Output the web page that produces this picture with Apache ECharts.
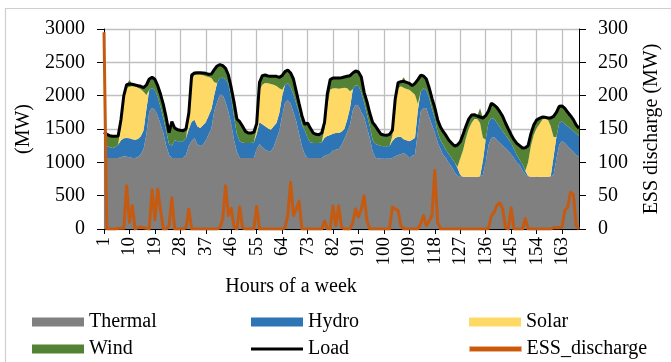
<!DOCTYPE html>
<html><head><meta charset="utf-8">
<script src="https://cdn.jsdelivr.net/npm/echarts@6/dist/echarts.min.js"></script>
<style>html,body{margin:0;padding:0;background:#fff}#c{width:671px;height:362px}</style>
</head><body><div id="c"></div>
<script>
const hours = Array.from({length:169},(_, i)=>String(i+1));
const thermal = [
1075,1065,1065,1065,1065,1065,1075,1090,1085,1075,
1065,1065,1080,1120,1200,1420,1760,1815,1790,1700,
1570,1440,1250,1115,1065,1065,1065,1065,1065,1110,
1250,1320,1365,1270,1245,1265,1330,1420,1510,1770,
1900,2015,2010,1900,1760,1580,1330,1160,1065,1065,
1065,1065,1065,1065,1200,1270,1230,1190,1170,1165,
1230,1350,1470,1700,1890,1930,1880,1750,1615,1430,
1240,1120,1065,1065,1065,1065,1065,1065,1100,1115,
1130,1180,1190,1200,1260,1350,1450,1560,1780,1865,
1850,1750,1680,1520,1365,1165,1070,1060,1055,1055,
1055,1055,1065,1090,1110,1120,1140,1110,1065,1100,
1115,1450,1760,1815,1810,1680,1560,1450,1300,1200,
1110,1060,990,930,850,800,790,785,785,785,
785,785,785,790,810,1000,1260,1365,1380,1330,
1290,1250,1215,1170,1120,1060,1000,960,880,820,
790,785,785,785,785,785,785,785,790,810,
1050,1265,1320,1290,1240,1200,1160,1110,1085];
const hydro = [
215,180,160,150,165,200,255,270,280,285,
280,275,270,270,280,380,330,300,290,280,
260,225,220,155,185,265,250,250,250,250,
250,290,275,270,270,290,270,280,290,240,
290,250,260,350,420,380,350,260,250,230,
225,225,225,235,220,330,340,350,340,325,
310,240,270,290,270,255,250,270,265,320,
320,360,305,235,225,225,225,235,270,280,
280,250,250,240,200,150,190,255,320,290,
300,300,220,200,175,175,205,200,190,185,
185,190,255,275,275,265,205,220,250,240,
255,330,300,295,270,290,240,210,150,130,
150,120,130,130,150,120,20,0,0,0,
0,0,0,0,210,340,340,300,270,265,
240,215,195,180,170,140,110,80,95,50,
5,0,0,0,0,0,0,0,0,270,
330,325,295,280,300,305,310,320,315];
const solar = [
0,0,0,0,0,0,230,590,750,775,
795,800,770,705,580,210,0,0,0,0,
0,0,0,0,0,0,0,0,0,0,
180,610,670,775,800,750,690,580,465,190,
0,0,0,0,0,0,0,0,0,0,
0,0,0,0,80,480,595,650,675,685,
625,555,370,100,0,0,0,0,0,0,
0,0,0,0,0,0,0,0,130,455,
680,680,670,665,650,620,470,250,0,0,
0,0,0,0,0,0,0,0,0,0,
0,0,80,535,725,755,775,770,775,710,
645,100,0,0,0,0,0,0,0,0,
0,0,0,0,0,10,250,395,575,715,
805,865,865,800,350,0,0,0,0,0,
0,0,0,0,0,0,0,0,0,0,
205,465,625,725,785,855,880,855,750,300,
0,0,0,0,0,0,0,0,0];
const wind = [
160,175,175,175,160,130,80,50,50,100,
35,20,30,45,60,150,160,160,165,170,
190,200,200,175,360,185,175,165,160,140,
60,90,30,30,30,35,45,40,60,190,
255,200,180,160,130,160,220,230,295,245,
175,150,150,150,80,120,135,120,110,115,
125,145,165,210,200,200,210,230,185,130,
140,90,220,210,150,130,125,140,100,180,
150,155,155,160,160,160,180,235,240,215,
205,230,150,190,200,260,270,220,175,170,
165,175,80,50,85,70,155,100,95,100,
170,360,245,185,170,150,160,160,190,200,
200,220,210,225,245,330,250,240,180,150,
120,65,45,220,295,360,170,220,210,225,
230,225,180,150,125,140,175,210,240,350,
250,180,150,125,90,40,10,25,150,310,
370,250,230,240,210,195,170,130,110];
const load = [
1450,1420,1400,1390,1390,1395,1640,2000,2165,2175,
2170,2160,2150,2140,2120,2160,2250,2275,2245,2150,
2020,1865,1670,1445,1610,1515,1490,1480,1475,1500,
1740,2310,2340,2345,2345,2340,2335,2320,2325,2390,
2445,2465,2450,2410,2310,2120,1900,1650,1610,1540,
1465,1440,1440,1450,1580,2200,2300,2310,2295,2290,
2290,2290,2275,2300,2360,2385,2340,2250,2065,1880,
1700,1570,1590,1510,1440,1420,1415,1440,1600,2030,
2240,2265,2265,2265,2270,2280,2290,2300,2340,2370,
2355,2280,2050,1910,1740,1600,1545,1480,1420,1410,
1405,1420,1480,1950,2195,2210,2215,2200,2185,2150,
2185,2240,2305,2295,2250,2120,1960,1820,1640,1530,
1460,1400,1330,1285,1245,1260,1310,1420,1540,1650,
1710,1715,1695,1680,1665,1700,1770,1885,1860,1820,
1760,1690,1590,1500,1415,1340,1285,1250,1215,1220,
1250,1430,1560,1635,1660,1680,1675,1665,1665,1690,
1750,1840,1845,1810,1750,1700,1640,1560,1510];
const essDischarge = [
295,0,0,0,0,1,1,1,65,10,
35,0,2,3,2,1,0,59,14,60,
28,0,0,5,47,0,0,0,0,2,
30,0,0,0,0,0,0,0,0,0,
0,2,15,65,20,31,3,0,33,2,
0,0,0,0,34,0,0,0,0,0,
0,0,0,0,2,20,70,20,30,42,
0,0,0,0,0,0,0,0,12,0,
0,35,5,35,3,0,0,0,10,30,
18,30,50,12,0,0,0,0,0,0,
0,0,33,30,28,5,0,0,0,0,
0,0,8,20,5,12,20,88,10,0,
0,0,0,0,0,0,0,0,0,0,
0,0,0,0,0,0,1,20,25,36,
39,30,2,0,32,0,0,0,0,16,
0,0,0,0,0,0,0,0,0,2,
2,2,3,28,33,55,52,5,0];

const FONT = '"Liberation Serif","Times New Roman",serif';
const C = {Thermal:'#808080', Hydro:'#2E75B6', Solar:'#FFD966', Wind:'#548235', Load:'#000000', ESS_discharge:'#C55A11'};

function areaSeries(name, data){
  return {name, type:'line', stack:'gen', data, symbol:'none', color:C[name],
    lineStyle:{width:0}, areaStyle:{color:C[name], opacity:1}, z:2};
}
const legendLayout = [
  {name:'Thermal', left:32, top:312, h:9},
  {name:'Hydro', left:251, top:312, h:9},
  {name:'Solar', left:469, top:312, h:9},
  {name:'Wind', left:32, top:339, h:9},
  {name:'Load', left:251, top:339, h:3},
  {name:'ESS_discharge', left:469, top:339, h:5}
];
const chart = echarts.init(document.getElementById('c'), null, {renderer:'canvas'});
chart.setOption({
  animation:false,
  backgroundColor:'#fff',
  textStyle:{fontFamily:FONT, color:'#000'},
  grid:{left:104, right:92, top:29, bottom:133},
  graphic:[
    {type:'rect', shape:{x:5.5, y:8.5, width:720, height:420}, style:{fill:'none', stroke:'#cfcfcf', lineWidth:1.2}, silent:true, z:-1},
    {type:'text', x:291, y:287, style:{text:'Hours of a week', font:'20px '+FONT, fill:'#000', align:'center', verticalAlign:'middle'}}
  ],
  legend: legendLayout.map(it => ({
    data:[it.name==='ESS_discharge' ? {name:it.name, icon:'rect', itemStyle:{borderColor:'#F4B183', borderWidth:1}} : {name:it.name, icon:'rect'}],
    left:it.left, top:it.top, itemWidth:52, itemHeight:it.h, padding:0, selectedMode:false,
    textStyle:{fontFamily:FONT, fontSize:20, color:'#000'}
  })),
  xAxis:[{
    type:'category', data:hours, boundaryGap:false,
    axisLine:{lineStyle:{color:'#000', width:1}},
    axisTick:{show:true, interval:8, length:5, lineStyle:{color:'#000'}},
    axisLabel:{interval:8, rotate:90, margin:8, fontFamily:FONT, fontSize:19, color:'#000'},
    splitLine:{show:true, interval:8, lineStyle:{color:'#bfbfbf', width:1.3}}
  },{
    type:'category', data:hours, boundaryGap:false, position:'bottom',
    axisLine:{show:false}, axisLabel:{show:false}, splitLine:{show:false},
    axisTick:{show:true, inside:true, interval:8, length:5, lineStyle:{color:'#000'}}
  }],
  yAxis:[{
    type:'value', min:0, max:3000, interval:500, position:'left',
    name:'(MW)', nameLocation:'middle', nameRotate:90, nameGap:63,
    nameTextStyle:{fontFamily:FONT, fontSize:20, color:'#000'},
    axisLine:{show:true, lineStyle:{color:'#000'}},
    axisTick:{show:true, length:7, lineStyle:{color:'#000'}},
    axisLabel:{margin:19, fontFamily:FONT, fontSize:20, color:'#000', formatter:v=>String(v)},
    splitLine:{show:true, lineStyle:{color:'#bfbfbf', width:1.3}}
  },{
    type:'value', min:0, max:300, interval:50, position:'right',
    name:'ESS discharge (MW)', nameLocation:'middle', nameRotate:90, nameGap:63,
    nameTextStyle:{fontFamily:FONT, fontSize:20, color:'#000'},
    axisLine:{show:true, lineStyle:{color:'#000'}},
    axisTick:{show:true, length:7, lineStyle:{color:'#000'}},
    axisLabel:{margin:19, fontFamily:FONT, fontSize:20, color:'#000', formatter:v=>String(v)},
    splitLine:{show:false}
  }],
  series:[
    areaSeries('Thermal', thermal),
    areaSeries('Hydro', hydro),
    areaSeries('Solar', solar),
    areaSeries('Wind', wind),
    {name:'Load', type:'line', data:load, symbol:'none', color:C.Load, lineStyle:{color:C.Load, width:3}, z:3},
    {name:'ESS_discharge', type:'line', yAxisIndex:1, data:essDischarge, symbol:'none', color:C.ESS_discharge, lineStyle:{color:C.ESS_discharge, width:3, join:'round'}, z:4}
  ]
});
</script>
</body></html>
